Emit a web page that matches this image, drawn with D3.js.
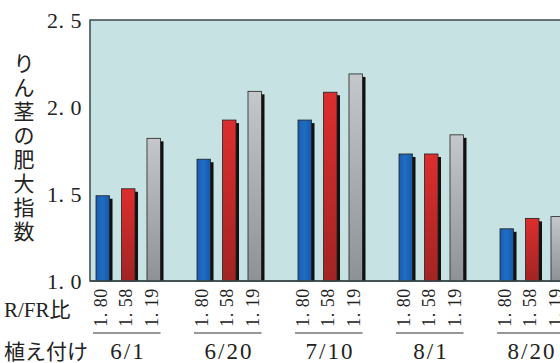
<!DOCTYPE html>
<html><head><meta charset="utf-8">
<script src="https://cdn.jsdelivr.net/npm/d3@7"></script>
<style>
html,body{margin:0;padding:0;background:#fff;}
svg{display:block;}
</style></head>
<body>
<script>
const dates = ["6/1","6/20","7/10","8/1","8/20"];
const ratios = ["1. 80","1. 58","1. 19"];
const v180 = [1.49, 1.70, 1.925, 1.73, 1.30];
const v158 = [1.53, 1.925, 2.085, 1.73, 1.36];
const v119 = [1.82, 2.09, 2.19, 1.84, 1.37];
const yTicks = [1.0, 1.5, 2.0, 2.5];
const yTickLabels = ["1. 0","1. 5","2. 0","2. 5"];
const yTitle = "りん茎の肥大指数";
const ratioTitle = "R/FR比";
const dateTitle = "植え付け";

const W = 560, H = 363;
const svg = d3.select("body").append("svg").attr("width", W).attr("height", H);
const defs = svg.append("defs");
function grad(id, stops){
  const g = defs.append("linearGradient").attr("id", id).attr("x1",0).attr("y1",0).attr("x2",0).attr("y2",1);
  stops.forEach(s => g.append("stop").attr("offset", s[0]).attr("stop-color", s[1]));
}
function hgrad(id, stops){
  const g = defs.append("linearGradient").attr("id", id).attr("x1",0).attr("y1",0).attr("x2",1).attr("y2",0);
  stops.forEach(s => g.append("stop").attr("offset", s[0]).attr("stop-color", s[1]));
}
hgrad("gBlue", [[0,"#1a5cb0"],[0.45,"#1f6ec4"],[1,"#1658a8"]]);
grad("gRedV", [[0,"#dc2e2e"],[1,"#a22424"]]);
grad("gGray", [[0,"#c4c8cc"],[1,"#8e9296"]]);

const mLeft = 90, mTop = 20, mBottom = 281;
const y = d3.scaleLinear().domain([1.0, 2.5]).range([mBottom, mTop]);
const x = d3.scalePoint().domain(dates).range([128, 532]);
const xs = d3.scaleBand().domain(ratios).range([-32, 32.5]).paddingInner(0.47).paddingOuter(0);

svg.append("rect").attr("x", mLeft).attr("y", mTop).attr("width", W - mLeft + 5).attr("height", mBottom - mTop)
  .attr("fill", "#c6e2e3");
svg.append("path").attr("d", `M${W+5},${mTop}H${mLeft}V${mBottom}H${W+5}`)
  .attr("fill","none").attr("stroke","#3a4a4a").attr("stroke-width",1.5);

const series = [
  {key: ratios[0], vals: v180, fill: "url(#gBlue)"},
  {key: ratios[1], vals: v158, fill: "url(#gRedV)"},
  {key: ratios[2], vals: v119, fill: "url(#gGray)"}
];
const bw = xs.bandwidth();
series.forEach(s => {
  const g = svg.append("g");
  const data = dates.map((d,i) => ({d, v: s.vals[i]}));
  g.selectAll("rect.sh").data(data).join("rect")
    .attr("x", d => x(d.d) + xs(s.key) + 3)
    .attr("y", d => y(d.v) + 3)
    .attr("width", bw)
    .attr("height", d => mBottom - y(d.v) - 3)
    .attr("fill", "#111");
  g.selectAll("rect.b").data(data).join("rect")
    .attr("x", d => x(d.d) + xs(s.key))
    .attr("y", d => y(d.v))
    .attr("width", bw)
    .attr("height", d => mBottom - y(d.v))
    .attr("fill", s.fill)
    .attr("stroke", "#222").attr("stroke-width", 0.8);
});
svg.append("line").attr("x1", mLeft).attr("x2", W+5).attr("y1", mBottom).attr("y2", mBottom)
  .attr("stroke","#3a4a4a").attr("stroke-width",1.5);

const serif = "'Liberation Serif','DejaVu Serif',serif";
const jp = "'Noto Sans CJK JP','Noto Sans CJK SC',sans-serif";
const mixed = "'Liberation Serif','Noto Sans CJK JP',serif";

const yAxis = d3.axisLeft(y).tickValues(yTicks).tickSize(0).tickPadding(8)
  .tickFormat((d,i) => yTickLabels[i]);
const ya = svg.append("g").attr("transform", `translate(${mLeft},0)`).call(yAxis);
ya.select(".domain").remove();
ya.selectAll("text").attr("font-family", serif).attr("font-size", 22).attr("fill","#222")
  .attr("dy","0.36em").attr("letter-spacing", "0.5px").style("white-space","pre").attr("x", -8);

const yt = svg.append("text").attr("font-family", jp).attr("font-size", 21).attr("fill","#222")
  .attr("text-anchor","middle");
Array.from(yTitle).forEach((c,i) => {
  yt.append("tspan").attr("x", 24).attr("y", 63 + i*24).attr("dy","0.36em").text(c);
});

dates.forEach(d => {
  ratios.forEach(r => {
    const cx = x(d) + xs(r) + bw/2;
    svg.append("text").attr("transform", `translate(${cx+4},${307.5}) rotate(-90)`)
      .attr("text-anchor","middle").attr("font-family", serif).attr("font-size", 18)
      .attr("letter-spacing","0.5px").style("white-space","pre").attr("fill","#222").text(r);
  });
  svg.append("line").attr("x1", x(d) + xs(ratios[0]) - 3).attr("x2", x(d) + xs(ratios[2]) + bw)
    .attr("y1", 333).attr("y2", 333).attr("stroke","#333").attr("stroke-width",1.2);
  svg.append("text").attr("x", x(d)).attr("y", 359).attr("text-anchor","middle")
    .attr("font-family", serif).attr("font-size", 23).attr("letter-spacing","2px").attr("fill","#222").text(d);
});

svg.append("text").attr("x", 4).attr("y", 317).attr("font-family", mixed).attr("font-size", 21)
  .attr("fill","#222").text(ratioTitle);
svg.append("text").attr("x", 4).attr("y", 359).attr("font-family", jp).attr("font-size", 21)
  .attr("fill","#222").text(dateTitle);
</script>
</body></html>
